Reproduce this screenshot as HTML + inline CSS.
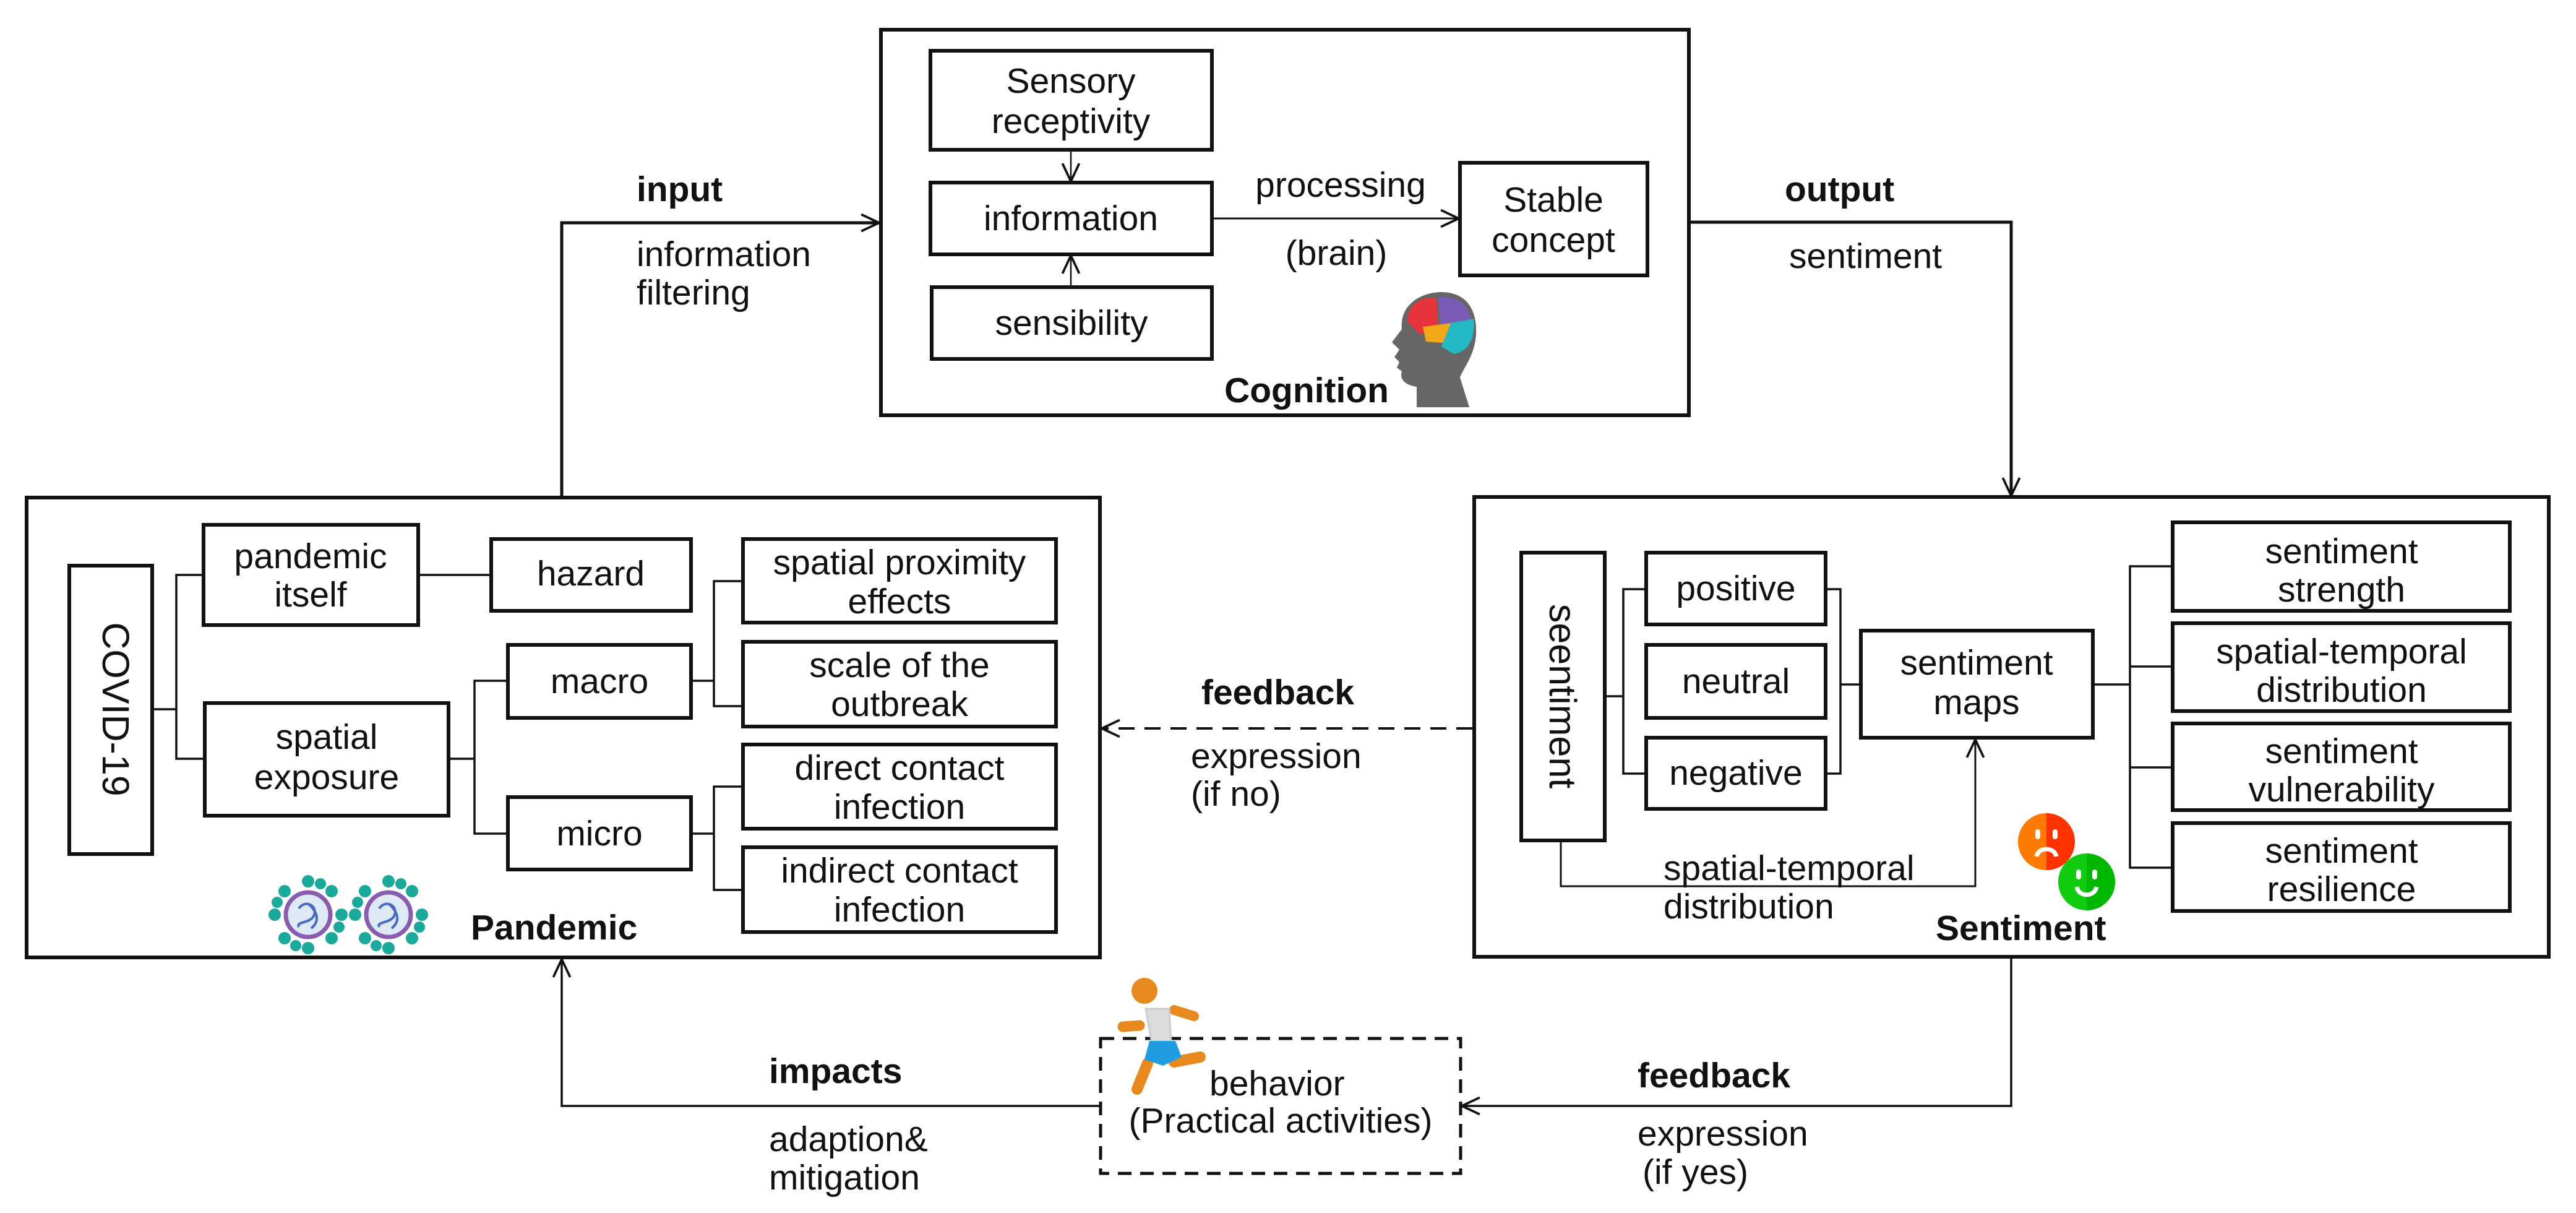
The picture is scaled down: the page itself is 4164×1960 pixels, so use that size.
<!DOCTYPE html>
<html><head><meta charset="utf-8"><style>
html,body{margin:0;padding:0;background:#fff}
svg{display:block}
text{font-family:"Liberation Sans",sans-serif;font-size:57px;fill:#111}
.b{font-weight:bold}
</style></head><body>
<svg width="4164" height="1960" viewBox="0 0 4164 1960" xmlns="http://www.w3.org/2000/svg">
<defs>
<marker id="ar" viewBox="0 0 20 20" refX="19" refY="10" markerWidth="34" markerHeight="34" markerUnits="userSpaceOnUse" orient="auto">
<path d="M2,2 L19,10 L2,18" fill="none" stroke="#111" stroke-width="2.2"/>
</marker>
</defs>
<g fill="none" stroke="#111">
<rect x="1424" y="48" width="1306" height="623" stroke-width="6"/>
<rect x="43" y="804" width="1735" height="743" stroke-width="6"/>
<rect x="2383" y="803" width="1737" height="743" stroke-width="6"/>
<rect x="1779" y="1678" width="582" height="218" stroke-width="5" stroke-dasharray="22,14"/>
<g stroke-width="6">
<rect x="1504" y="82" width="455" height="160"/>
<rect x="1504" y="295" width="455" height="116"/>
<rect x="1506" y="464" width="453" height="116"/>
<rect x="2360" y="263" width="303" height="182"/>
<rect x="112" y="914" width="134" height="466"/>
<rect x="329" y="848" width="347" height="162"/>
<rect x="794" y="871" width="323" height="116"/>
<rect x="331" y="1136" width="394" height="182"/>
<rect x="821" y="1042" width="296" height="118"/>
<rect x="821" y="1288" width="296" height="117"/>
<rect x="1201" y="871" width="506" height="135"/>
<rect x="1201" y="1037" width="506" height="137"/>
<rect x="1201" y="1203" width="506" height="136"/>
<rect x="1201" y="1369" width="506" height="137"/>
<rect x="2459" y="893" width="135" height="465"/>
<rect x="2661" y="893" width="290" height="116"/>
<rect x="2661" y="1042" width="290" height="118"/>
<rect x="2661" y="1192" width="290" height="115"/>
<rect x="3008" y="1019" width="375" height="173"/>
<rect x="3512" y="844" width="545" height="143"/>
<rect x="3512" y="1007" width="545" height="142"/>
<rect x="3512" y="1169" width="545" height="140"/>
<rect x="3512" y="1330" width="545" height="142"/>
</g>
<g stroke-width="3.5">
<path d="M246,1146 H285 M329,929 H285 V1226 H331"/>
<path d="M676,929 H794"/>
<path d="M725,1226 H767 M821,1100 H767 V1347 H821"/>
<path d="M1117,1100 H1154 M1201,939 H1154 V1141 H1201"/>
<path d="M1117,1347 H1154 M1201,1271 H1154 V1438 H1201"/>
<path d="M2594,1125 H2624 M2661,952 H2624 V1250 H2661"/>
<path d="M2951,952 H2975 V1250 H2951 M2975,1106 H3008"/>
<path d="M3383,1106 H3443 M3512,915 H3443 V1402 H3512 M3443,1077 H3512 M3443,1240 H3512"/>
</g>
<path d="M1731,242 V293" stroke-width="2.5" marker-end="url(#ar)"/>
<path d="M1731,464 V413" stroke-width="2.5" marker-end="url(#ar)"/>
<path d="M1962,353 H2358" stroke-width="3" marker-end="url(#ar)"/>
<path d="M908,804 V360 H1421" stroke-width="5" marker-end="url(#ar)"/>
<path d="M2730,359 H3251 V801" stroke-width="5" marker-end="url(#ar)"/>
<path d="M2380,1177 H1781" stroke-width="4" stroke-dasharray="26,16" marker-end="url(#ar)"/>
<path d="M3251,1546 V1787 H2363" stroke-width="3.5" marker-end="url(#ar)"/>
<path d="M1777,1787 H908 V1550" stroke-width="3.5" marker-end="url(#ar)"/>
<path d="M2523,1358 V1432 H3193 V1195" stroke-width="3" marker-end="url(#ar)"/>
</g>
<g text-anchor="middle">
<text x="1731" y="150">Sensory</text>
<text x="1731" y="215">receptivity</text>
<text x="1731" y="372">information</text>
<text x="1732" y="541">sensibility</text>
<text x="2511" y="342">Stable</text>
<text x="2511" y="407">concept</text>
<text x="2167" y="318">processing</text>
<text x="2160" y="428">(brain)</text>
<text x="502" y="918">pandemic</text>
<text x="502" y="980">itself</text>
<text x="955" y="946">hazard</text>
<text x="528" y="1210">spatial</text>
<text x="528" y="1275">exposure</text>
<text x="969" y="1120">macro</text>
<text x="969" y="1366">micro</text>
<text x="1454" y="928">spatial proximity</text>
<text x="1454" y="991">effects</text>
<text x="1454" y="1094">scale of the</text>
<text x="1454" y="1157">outbreak</text>
<text x="1454" y="1260">direct contact</text>
<text x="1454" y="1323">infection</text>
<text x="1454" y="1426">indirect contact</text>
<text x="1454" y="1489">infection</text>
<text x="2806" y="970">positive</text>
<text x="2806" y="1120">neutral</text>
<text x="2806" y="1268">negative</text>
<text x="3195" y="1090">sentiment</text>
<text x="3195" y="1154">maps</text>
<text x="3785" y="910">sentiment</text>
<text x="3785" y="972">strength</text>
<text x="3785" y="1072">spatial-temporal</text>
<text x="3785" y="1134">distribution</text>
<text x="3785" y="1233">sentiment</text>
<text x="3785" y="1295">vulnerability</text>
<text x="3785" y="1394">sentiment</text>
<text x="3785" y="1456">resilience</text>
<text x="2070" y="1830">(Practical activities)</text>
</g>
<text transform="translate(166,1146) rotate(90)" text-anchor="middle" style="font-size:61px">COVID-19</text>
<text transform="translate(2505,1125) rotate(90)" text-anchor="middle" style="font-size:61px">seentiment</text>
<text x="2689" y="1422">spatial-temporal</text>
<text x="2689" y="1484">distribution</text>
<text x="1029" y="325" class="b">input</text>
<text x="1029" y="430">information</text>
<text x="1029" y="492">filtering</text>
<text x="2885" y="325" class="b">output</text>
<text x="2892" y="433">sentiment</text>
<text x="1942" y="1138" class="b">feedback</text>
<text x="1925" y="1241">expression</text>
<text x="1925" y="1302">(if no)</text>
<text x="1243" y="1750" class="b">impacts</text>
<text x="1243" y="1860">adaption&amp;</text>
<text x="1243" y="1922">mitigation</text>
<text x="1955" y="1770">behavior</text>
<text x="2647" y="1757" class="b">feedback</text>
<text x="2647" y="1851">expression</text>
<text x="2655" y="1913">(if yes)</text>
<text x="2245" y="650" class="b" text-anchor="end">Cognition</text>
<text x="761" y="1518" class="b">Pandemic</text>
<text x="3129" y="1519" class="b">Sentiment</text>
<g>
<path d="M2290,658 L2290,625 C2270,622 2262,612 2266,600 L2258,594 L2262,585 L2254,577 L2262,565 L2250,553 L2266,532 C2262,490 2300,472 2330,472 C2370,472 2388,500 2386,540 C2384,575 2365,595 2360,610 L2375,658 Z" fill="#666"/>
<path d="M2275,520 C2275,490 2300,478 2322,482 L2325,532 L2295,540 Z" fill="#e8323c"/>
<path d="M2325,480 C2355,478 2372,490 2378,515 L2328,530 Z" fill="#7a5cb8"/>
<path d="M2300,528 L2345,522 L2345,555 L2305,552 Z" fill="#f2a816"/>
<path d="M2345,522 L2382,515 C2385,545 2375,568 2350,572 L2330,560 Z" fill="#22b8c4"/>
</g>
<g>
<g transform="translate(498,1478)">
<g fill="#1aa99a"><circle cx="0" cy="-54" r="10"/><circle cx="0" cy="54" r="10"/><circle cx="-54" cy="0" r="10"/><circle cx="54" cy="0" r="10"/><circle cx="38" cy="38" r="10"/><circle cx="-38" cy="38" r="10"/><circle cx="38" cy="-38" r="10"/><circle cx="-38" cy="-38" r="10"/><circle cx="20" cy="-50" r="9"/><circle cx="-20" cy="50" r="9"/><circle cx="-50" cy="-20" r="9"/><circle cx="50" cy="20" r="9"/></g>
<circle r="36" fill="#dde9f4" stroke="#8a5cb0" stroke-width="7"/>
<path d="M-15,-10 C-5,-25 15,-15 10,0 C5,15 -20,10 -15,20 M0,-18 C15,-5 20,10 5,22" fill="none" stroke="#4a6ac0" stroke-width="4"/>
</g>
<g transform="translate(628,1478)">
<g fill="#1aa99a"><circle cx="0" cy="-54" r="10"/><circle cx="0" cy="54" r="10"/><circle cx="-54" cy="0" r="10"/><circle cx="54" cy="0" r="10"/><circle cx="38" cy="38" r="10"/><circle cx="-38" cy="38" r="10"/><circle cx="38" cy="-38" r="10"/><circle cx="-38" cy="-38" r="10"/><circle cx="20" cy="-50" r="9"/><circle cx="-20" cy="50" r="9"/><circle cx="-50" cy="-20" r="9"/><circle cx="50" cy="20" r="9"/></g>
<circle r="36" fill="#dde9f4" stroke="#8a5cb0" stroke-width="7"/>
<path d="M-15,-10 C-5,-25 15,-15 10,0 C5,15 -20,10 -15,20 M0,-18 C15,-5 20,10 5,22" fill="none" stroke="#4a6ac0" stroke-width="4"/>
</g>
</g>
<g>
<circle cx="3308" cy="1360" r="46" fill="#ff7a00"/>
<path d="M3308,1314 A46,46 0 0 1 3308,1406 Z" fill="#ff3300"/>
<rect x="3290" y="1340" width="8" height="16" rx="4" fill="#fff"/><rect x="3318" y="1340" width="8" height="16" rx="4" fill="#fff"/>
<path d="M3292,1384 C3295,1368 3321,1368 3324,1384" fill="none" stroke="#fff" stroke-width="7"/>
<circle cx="3373" cy="1425" r="46" fill="#10cc10"/>
<path d="M3373,1379 A46,46 0 0 1 3373,1471 Z" fill="#00b800"/>
<rect x="3356" y="1405" width="8" height="16" rx="4" fill="#fff"/><rect x="3382" y="1405" width="8" height="16" rx="4" fill="#fff"/>
<path d="M3357,1433 C3360,1450 3386,1450 3389,1433" fill="none" stroke="#fff" stroke-width="7"/>
</g>
<g stroke-linecap="round" fill="none">
<circle cx="1850" cy="1601" r="21" fill="#e8891e"/>
<path d="M1815,1659 L1842,1657" stroke="#e8891e" stroke-width="17"/>
<path d="M1898,1632 L1930,1642" stroke="#e8891e" stroke-width="16"/>
<path d="M1855,1718 L1838,1760" stroke="#e8891e" stroke-width="18"/>
<path d="M1898,1716 L1940,1708" stroke="#e8891e" stroke-width="18"/>
<path d="M1852,1630 L1890,1630 L1893,1685 L1862,1685 Z" fill="#dcdcdc" stroke="#ccc" stroke-width="3"/>
<path d="M1858,1682 L1900,1682 L1910,1708 L1880,1722 L1850,1712 Z" fill="#1e9ee0"/>
</g>
</svg>
</body></html>
